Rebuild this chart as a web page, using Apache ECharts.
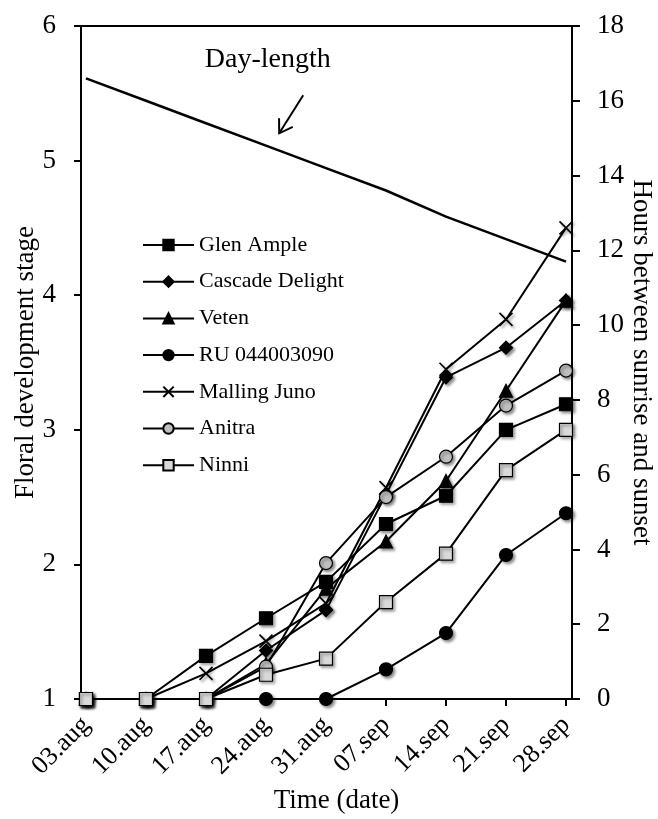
<!DOCTYPE html>
<html>
<head>
<meta charset="utf-8">
<script src="https://cdn.jsdelivr.net/npm/echarts@6/dist/echarts.min.js"></script>
<style>
html,body{margin:0;padding:0;background:#fff;}
#chart{width:658px;height:819px;}
</style>
</head>
<body>
<div id="chart"></div>
<script>
// ---- data ----
const dates = ['03.aug','10.aug','17.aug','24.aug','31.aug','07.sep','14.sep','21.sep','28.sep'];
const glenAmple      = [1, 1, 1.32, 1.60, 1.87, 2.30, 2.51, 3.00, 3.19];
const cascadeDelight = [1, 1, 1,    1.36, 1.66, 2.52, 3.39, 3.61, 3.96];
const veten          = [1, 1, 1,    1.26, 1.82, 2.17, 2.62, 3.29, 3.96];
const ru044003090    = [1, 1, 1,    1,    1,    1.22, 1.49, 2.07, 2.38];
const mallingJuno    = [1, 1, 1.19, 1.43, 1.71, 2.57, 3.45, 3.82, 4.50];
const anitra         = [1, 1, 1,    1.24, 2.01, 2.50, 2.80, 3.18, 3.44];
const ninni          = [1, 1, 1,    1.18, 1.30, 1.72, 2.08, 2.70, 3.00];
const dayLength      = [16.6, 16.0, 15.4, 14.8, 14.2, 13.6, 12.9, 12.3, 11.7];
const leftTicks  = [1, 2, 3, 4, 5, 6];
const rightTicks = [0, 2, 4, 6, 8, 10, 12, 14, 16, 18];

const FONT = 'Liberation Serif';
const pairs = arr => arr.map((v, i) => [i, v]);
const idx = dates.map((d, i) => i);

const shadow = {shadowBlur: 3, shadowOffsetX: 2, shadowOffsetY: 2, shadowColor: 'rgba(0,0,0,0.45)'};
function mk(name, data, symbol, size, fill, z) {
  return {
    name: name, type: 'line', data: pairs(data), yAxisIndex: 0,
    symbol: symbol, symbolSize: size, showSymbol: true, z: z,
    lineStyle: {color: '#000', width: 2},
    itemStyle: Object.assign({color: fill, borderColor: '#000', borderWidth: 1.2}, shadow),
    emphasis: {disabled: true}, animation: false
  };
}
const crossPath = 'path://M0,0L10,10M10,0L0,10';

const series = [
  mk('Glen Ample', glenAmple, 'rect', 13, '#000', 3),
  mk('Cascade Delight', cascadeDelight, 'diamond', 13, '#000', 3),
  mk('Veten', veten, 'triangle', 13, '#000', 3),
  mk('RU 044003090', ru044003090, 'circle', 13, '#000', 3),
  Object.assign(mk('Malling Juno', mallingJuno, crossPath, 13, 'none', 3), {
    itemStyle: Object.assign({color: 'rgba(0,0,0,0)', borderColor: '#000', borderWidth: 1.6}, shadow)
  }),
  mk('Anitra', anitra, 'circle', 13, '#bfbfbf', 4),
  mk('Ninni', ninni, 'rect', 13, '#d9d9d9', 5),
  {
    name: 'Day-length', type: 'line', data: pairs(dayLength), yAxisIndex: 1,
    symbol: 'none', lineStyle: {color: '#000', width: 2.5}, animation: false, z: 2
  }
];

const chart = echarts.init(document.getElementById('chart'), null, {renderer: 'canvas'});
const option = {
  backgroundColor: '#fff',
  animation: false,
  grid: {left: 81, right: 86, top: 26, bottom: 120, containLabel: false, outerBoundsMode: 'none',
    show: true, borderColor: '#000', borderWidth: 2},
  legend: {
    data: ['Glen Ample','Cascade Delight','Veten','RU 044003090','Malling Juno','Anitra','Ninni'],
    orient: 'vertical', left: 142, top: 234, padding: 0,
    itemWidth: 51, itemHeight: 13, itemGap: 14.7,
    textStyle: {fontFamily: FONT, fontSize: 22, color: '#000', lineHeight: 22},
    selectedMode: false
  },
  xAxis: {
    type: 'value', min: -0.0833, max: 8.1,
    name: 'Time (date)', nameLocation: 'middle', nameGap: 88, nameMoveOverlap: false,
    nameTextStyle: {fontFamily: FONT, fontSize: 27, color: '#000', padding: [0, 0, 0, 20]},
    axisLine: {show: true, onZero: false, lineStyle: {color: '#000', width: 2}},
    axisTick: {show: true, inside: false, length: 7, lineStyle: {color: '#000', width: 2}, customValues: idx},
    axisLabel: {customValues: idx, rotate: 45, margin: 22, fontFamily: FONT, fontSize: 26, color: '#000',
      formatter: v => dates[Math.round(v)] || ''},
    splitLine: {show: false}
  },
  yAxis: [
    {
      type: 'value', min: leftTicks[0], max: leftTicks[leftTicks.length - 1], interval: 1,
      name: 'Floral development stage', nameLocation: 'middle', nameGap: 42, nameMoveOverlap: false,
      nameTextStyle: {fontFamily: FONT, fontSize: 27, color: '#000'},
      axisLine: {show: true, onZero: false, lineStyle: {color: '#000', width: 2}},
      axisTick: {show: true, inside: false, length: 7, lineStyle: {color: '#000', width: 2}},
      axisLabel: {margin: 25, fontFamily: FONT, fontSize: 27, color: '#000'},
      splitLine: {show: false}
    },
    {
      type: 'value', position: 'right', min: rightTicks[0], max: rightTicks[rightTicks.length - 1], interval: 2,
      name: 'Hours between sunrise and sunset', nameLocation: 'middle', nameGap: 56, nameRotate: -90,
      nameMoveOverlap: false,
      nameTextStyle: {fontFamily: FONT, fontSize: 27, color: '#000'},
      axisLine: {show: true, onZero: false, lineStyle: {color: '#000', width: 2}},
      axisTick: {show: true, inside: false, length: 8, lineStyle: {color: '#000', width: 2}},
      axisLabel: {margin: 25, fontFamily: FONT, fontSize: 27, color: '#000'},
      splitLine: {show: false}
    }
  ],
  series: series
};
chart.setOption(option);

// Annotation "Day-length" with an open arrow, positioned through the axes' scales
const toPx = p => chart.convertToPixel({xAxisIndex: 0, yAxisIndex: 1}, p);
const txt = toPx([3.03, 17.1]);
const tail = toPx([3.62, 16.15]);
const tip = toPx([3.22, 15.13]);
const ang = Math.atan2(tail[1] - tip[1], tail[0] - tip[0]);
const L = 15, spread = Math.PI / 5.5;
const h1 = [tip[0] + L * Math.cos(ang + spread), tip[1] + L * Math.sin(ang + spread)];
const h2 = [tip[0] + L * Math.cos(ang - spread), tip[1] + L * Math.sin(ang - spread)];
chart.setOption({
  graphic: [
    {type: 'text', x: txt[0], y: txt[1], z: 10,
      style: {text: 'Day-length', font: '28px "' + FONT + '"', fill: '#000', align: 'center', verticalAlign: 'middle'}},
    {type: 'polyline', z: 10, shape: {points: [tail, tip]}, style: {stroke: '#000', lineWidth: 2, fill: null}},
    {type: 'polyline', z: 10, shape: {points: [h1, tip, h2]}, style: {stroke: '#000', lineWidth: 2, fill: null}}
  ]
});
</script>
</body>
</html>
